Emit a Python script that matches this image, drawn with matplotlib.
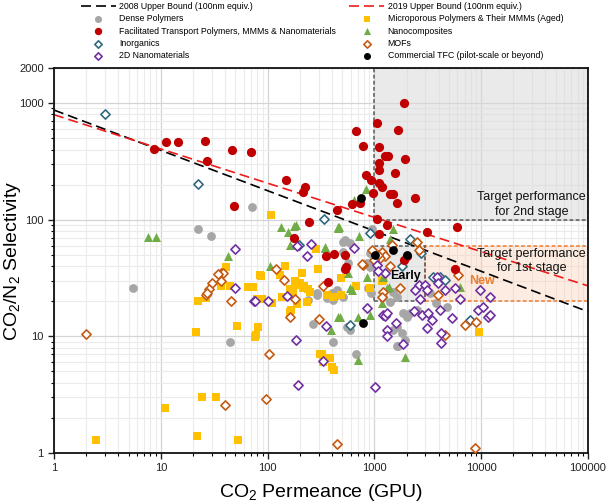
import matplotlib
matplotlib.use('Agg')
import matplotlib.pyplot as plt
from matplotlib.patches import Rectangle
from matplotlib.ticker import FixedLocator, LogLocator, NullFormatter

plt.rcParams['font.family'] = ['Liberation Sans', 'DejaVu Sans']
plt.rcParams['mathtext.default'] = 'regular'

# upper bound lines (end points, x=1 and x=1e5)
ub2008_x = [1, 100000]
ub2008_y = [872, 16.3]
ub2019_x = [1, 100000]
ub2019_y = [795, 27.1]

# Dense Polymers
dense_x = [71.5, 22.3, 29.7, 5.5, 44.8, 292, 357, 412, 240, 268, 412, 680, 290, 445, 510,
           530, 590, 555, 590, 850, 910, 1860, 2000, 1620, 1500, 1620, 880, 920, 1400, 1620,
           1500, 512, 512, 570, 445, 400, 1680, 1940, 1800, 2160, 2490, 4750, 910, 990, 990,
           940, 3300, 3800, 1200]
dense_y = [129, 84, 73, 26.2, 8.9, 22.6, 21.4, 20.5, 20.5, 12.7, 9.0, 7.1, 23.4, 22.6, 21.9,
           67, 63, 12.1, 11.3, 42.3, 39.7, 15.8, 14.7, 12.1, 11.3, 8.2, 25.8, 23.4, 19.8, 21.9,
           24.2, 65, 53, 42.3, 25, 23.4, 8.2, 9.3, 10.6, 15.8, 16.8, 18, 51.5, 47, 41,
           84, 23.4, 19.2, 21.9]

# Facilitated Transport Polymers, MMMs & Nanomaterials
ft_x = [8.6, 11.2, 14.4, 25.8, 27, 46.4, 69.5, 148, 224, 216, 443, 48.8, 243, 178, 356, 418,
        1890, 1050, 673, 1650, 787, 1110, 1260, 1330, 1945, 1110, 1110, 1570, 834, 923, 1110,
        1170, 964, 1400, 1500, 2415, 1640, 733, 612, 1050, 1320, 1110, 3090, 5970, 530, 531,
        5690, 1890, 370, 540, 2000]
ft_y = [405, 465, 465, 474, 321, 399, 381, 221, 191, 172, 121, 131, 95, 70, 49.3, 51,
        997, 680, 578, 585, 430, 424, 352, 355, 332, 305, 267, 250, 242, 219, 205,
        192, 169, 165, 167, 154, 139, 140, 136, 101, 91, 75, 78.6, 87, 50, 38,
        38, 45, 29.4, 39, 48.5]

# Microporous Polymers & Their MMMs (Aged)
mp_x = [108, 282, 40.5, 147, 87, 211, 299, 131, 182, 219, 240, 187, 162, 36.4, 44.4, 66,
        22.2, 26.3, 88, 110, 187, 232, 412, 166, 51.4, 81.8, 77.9, 21.2, 325, 378, 333, 398,
        418, 24.1, 33.1, 11.0, 2.5, 22, 53, 201, 216, 250, 174, 208, 85, 73, 79, 162,
        357, 490, 490, 680, 910, 1210, 82, 76, 310, 380, 135, 9600, 1170]
mp_y = [109, 55.8, 39.4, 40, 33, 35, 37.6, 33.4, 29.9, 27, 25.3, 27.4, 25.3, 27, 27, 26.6,
        20, 21.5, 21, 19.2, 18.9, 19.6, 21.6, 16.8, 12.3, 12.1, 10.3, 11.0, 7.1, 6.5, 6.0, 5.5,
        5.15, 3.0, 3.0, 2.45, 1.29, 1.41, 1.29, 28.6, 25.8, 24.2, 24.2, 35, 33.6, 26.6, 21.1, 16.3,
        22.6, 22.6, 31.5, 27, 25.8, 30.4, 12.1, 9.9, 7.1, 6.5, 21.9, 11, 30]

# Nanocomposites
nc_x = [7.6, 9.0, 133, 175, 184, 156, 162, 344, 459, 42.8, 105, 459, 395, 644, 829, 723,
        470, 1500, 1400, 476, 710, 710, 1937, 612, 1210, 1360, 1170, 910, 6320, 590, 850,
        459, 570, 345, 1300]
nc_y = [71.6, 71.6, 87, 89, 90, 78, 61, 57, 87, 49, 40.4, 14.7, 11.3, 148, 184, 72,
        87, 84, 69, 14.7, 14.7, 6.3, 6.7, 25, 32.5, 26.6, 19.2, 15.2, 26.6, 25.8, 32.5,
        84.6, 35, 58, 25.8]

# Inorganics
inorg_x = [3.0, 22.2, 335, 198, 910, 2160, 2720, 1800, 3550, 4100, 4600, 590, 7850]
inorg_y = [808, 201, 101, 61, 77, 69, 52, 39.8, 32.5, 32.5, 30.4, 12.5, 13.8]

# MOFs
mof_x = [2.0, 36.6, 38.5, 34.4, 36.6, 30, 28.3, 26.3, 26.9, 45, 121, 143, 162, 182, 305, 333,
         104, 96, 40, 443, 8750, 1170, 1260, 1120, 1080, 1000, 790, 760, 940, 1740, 1210, 1170,
         1450, 2490, 2600, 6100, 3980, 4600, 7000, 9000, 1400]
mof_y = [10.5, 34.7, 35, 34, 29.9, 28.5, 25.3, 22.6, 23.4, 20.2, 37.6, 30.5, 14.6, 21.1, 14.1, 27,
         7.0, 2.9, 2.6, 1.19, 1.1, 53, 48.5, 47, 50, 45, 41, 42, 55, 25.8, 24.2, 21.9,
         60.8, 65, 55, 33.6, 22.6, 10.3, 12.5, 13.4, 39.8]

# 2D Nanomaterials
nano2d_x = [49.5, 190, 254, 232, 49.5, 75, 100, 151, 186, 194, 328, 352, 644, 1050, 1260, 1090,
            2600, 2420, 2970, 3830, 3980, 4600, 5700, 6300, 2700, 3080, 9750, 12100, 860, 1200,
            1260, 1300, 1600, 1320, 1320, 1860, 2340, 2800, 3200, 3450, 3080, 4100, 5300, 4250,
            4250, 9400, 10500, 11600, 12100, 1010, 76]
nano2d_y = [56, 60, 61.5, 49, 26.2, 20.2, 20.2, 22.2, 9.3, 3.8, 6.1, 12.3, 56.9, 41, 35, 36.6,
            27.6, 25, 27.6, 32.5, 28.5, 25, 25.8, 20.9, 21.1, 25, 25, 21.9, 17.4, 15.2,
            15, 15.8, 12.9, 11.3, 10, 8.6, 16.6, 15.2, 15.8, 13.8, 11.7, 16.8, 14.3, 10.6,
            8.7, 16.8, 18, 14.7, 15.2, 3.66, 20.2]

# Commercial TFC
tfc_x = [750, 1010, 1500, 2040, 780]
tfc_y = [153, 50, 55, 49.5, 12.9]

fig = plt.figure(figsize=(6.1, 5.04), dpi=100)
ax = fig.add_axes([0.0885, 0.1012, 0.8754, 0.7639])
ax.set_xscale('log')
ax.set_yscale('log')
ax.set_xlim(1, 100000)
ax.set_ylim(1, 2000)

ax.yaxis.set_major_locator(FixedLocator([1, 10, 100, 1000, 2000]))
ax.yaxis.set_major_formatter(matplotlib.ticker.FuncFormatter(lambda v, p: '%d' % v))
ax.yaxis.set_minor_locator(LogLocator(base=10, subs=range(2, 10)))
ax.yaxis.set_minor_formatter(NullFormatter())
ax.xaxis.set_major_locator(LogLocator(base=10, numticks=10))
ax.xaxis.set_major_formatter(matplotlib.ticker.FuncFormatter(lambda v, p: '%d' % v))
ax.xaxis.set_minor_locator(LogLocator(base=10, subs=range(2, 10), numticks=20))
ax.xaxis.set_minor_formatter(NullFormatter())

ax.grid(True, which='major', color='#d4d4d4', lw=0.9, zorder=0)
ax.grid(True, which='minor', color='#ebebeb', lw=0.8, zorder=0)
ax.set_axisbelow(True)
ax.tick_params(which='major', direction='out', length=4, width=1, labelsize=8, colors='#222222')
ax.tick_params(which='minor', direction='out', length=2.5, width=0.8)
for s in ax.spines.values():
    s.set_linewidth(1.3)
    s.set_color('#111111')

# target regions
ax.add_patch(Rectangle((1000, 100), 99000, 1900, facecolor='#d9d9d9', alpha=0.55,
                       edgecolor='none', zorder=1))
ax.add_patch(Rectangle((1000, 100), 99000, 1900, facecolor='none', edgecolor='#595959',
                       ls=(0, (2.5, 1.5)), lw=1.1, zorder=1.5))
ax.add_patch(Rectangle((3000, 20), 97000, 40, facecolor='#f8cbad', alpha=0.35,
                       edgecolor='none', zorder=1))
ax.add_patch(Rectangle((3000, 20), 97000, 40, facecolor='none', edgecolor='#ed7d31',
                       ls=(0, (2.5, 1.5)), lw=1.1, zorder=1.5))
ax.add_patch(Rectangle((1000, 20), 2000, 40, facecolor='#d9d9d9', alpha=0.55,
                       edgecolor='none', zorder=1))
ax.add_patch(Rectangle((1000, 20), 2000, 40, facecolor='none', edgecolor='#595959',
                       ls=(0, (2.5, 1.5)), lw=1.1, zorder=1.5))

l1, = ax.plot(ub2008_x, ub2008_y, color='black', ls=(0, (6, 3)), lw=1.2, zorder=2)
l2, = ax.plot(ub2019_x, ub2019_y, color='#ee1c1c', ls=(0, (6, 3)), lw=1.2, zorder=2)

s_dense = ax.scatter(dense_x, dense_y, s=40, marker='o', color='#a6a6a6', lw=0, zorder=3)
s_mp = ax.scatter(mp_x, mp_y, s=30, marker='s', color='#ffc000', lw=0, zorder=3)
s_nc = ax.scatter(nc_x, nc_y, s=42, marker='^', color='#70ad47', lw=0, zorder=3)
s_inorg = ax.scatter(inorg_x, inorg_y, s=22, marker='D', facecolor='white',
                     edgecolor='#31697e', lw=1.2, zorder=3)
s_mof = ax.scatter(mof_x, mof_y, s=22, marker='D', facecolor='white',
                   edgecolor='#c55a11', lw=1.2, zorder=3)
s_2d = ax.scatter(nano2d_x, nano2d_y, s=22, marker='D', facecolor='white',
                  edgecolor='#7030a0', lw=1.2, zorder=3)
s_ft = ax.scatter(ft_x, ft_y, s=44, marker='o', color='#c00000', lw=0, zorder=3)
s_tfc = ax.scatter(tfc_x, tfc_y, s=40, marker='o', color='black', lw=0, zorder=3)

ax.text(96000, 135, 'Target performance\nfor 2nd stage', ha='right', va='center',
        ma='center', fontsize=9, color='#111111', linespacing=1.25, zorder=4)
ax.text(96000, 44, 'Target performance\nfor 1st stage', ha='right', va='center',
        ma='center', fontsize=9, color='#111111', linespacing=1.25, zorder=4)
ax.text(1960, 33, 'Early', ha='center', va='center', fontsize=9, fontweight='bold',
        color='black', zorder=4)
ax.text(10100, 29.9, 'New', ha='center', va='center', fontsize=9, fontweight='bold',
        color='#ed7d31', zorder=4)

ax.set_xlabel('CO$_2$ Permeance (GPU)', fontsize=14, labelpad=6)
ax.set_ylabel('CO$_2$/N$_2$ Selectivity', fontsize=14)
ax.yaxis.set_label_coords(-0.058, 0.5)

handles = [l1, s_dense, s_ft, s_inorg, s_2d, l2, s_mp, s_nc, s_mof, s_tfc]
labels = ['2008 Upper Bound (100nm equiv.)', 'Dense Polymers',
          'Facilitated Transport Polymers, MMMs & Nanomaterials', 'Inorganics',
          '2D Nanomaterials', '2019 Upper Bound (100nm equiv.)',
          'Microporous Polymers & Their MMMs (Aged)', 'Nanocomposites', 'MOFs',
          'Commercial TFC (pilot-scale or beyond)']
fig.legend(handles, labels, ncol=2, loc='upper left', bbox_to_anchor=(0.122, 1.008),
           frameon=False, fontsize=6.3, handlelength=4.0, handletextpad=0.4,
           columnspacing=1.5, labelspacing=0.38, markerscale=0.8, borderpad=0.2)

fig.savefig('out.png', dpi=100)
